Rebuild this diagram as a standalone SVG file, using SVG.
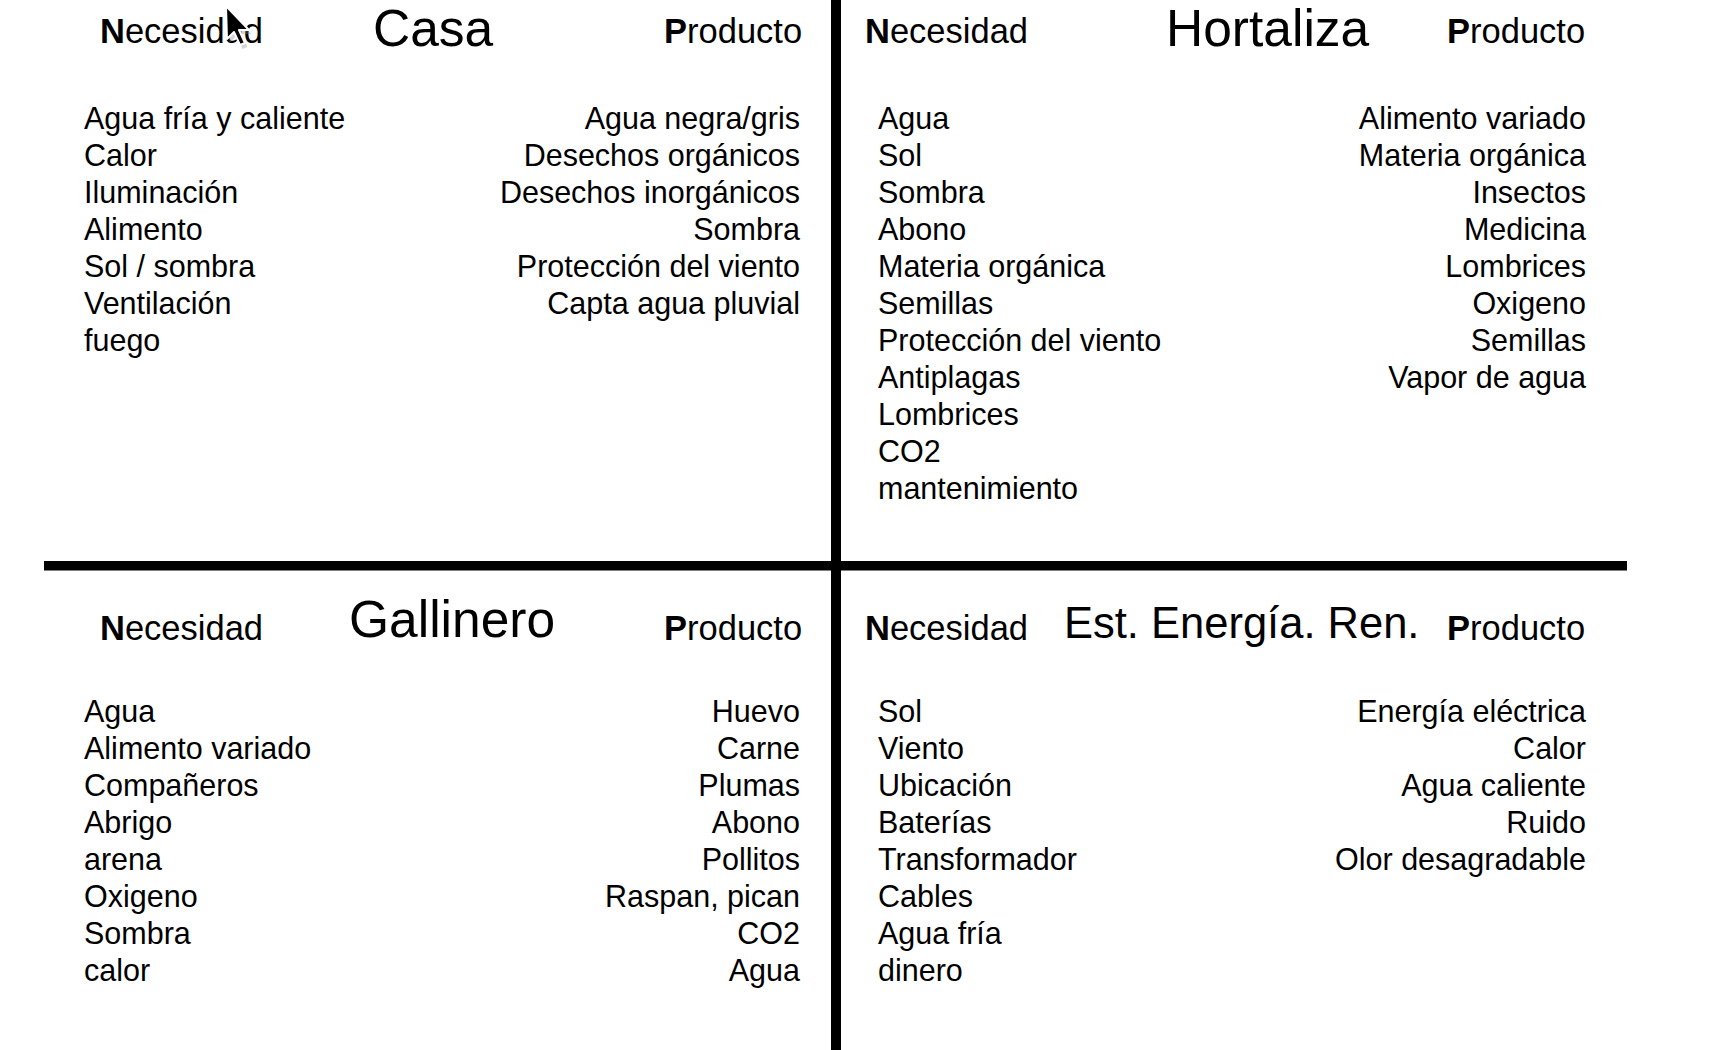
<svg xmlns="http://www.w3.org/2000/svg" width="1736" height="1050" viewBox="0 0 1736 1050">
<style>
text { font-family: "Liberation Sans", Arial, Helvetica, sans-serif; fill: #000; }
.hdr { font-size: 34.5px; }
.b { font-weight: bold; }
.title { font-size: 51.5px; }
.title2 { font-size: 43.5px; }
.body { font-size: 30.5px; }
.r { text-anchor: end; }
.div { fill: #000; }
</style>
<rect x="0" y="0" width="1736" height="1050" fill="#fff"/>
<g id="dividers">
  <rect class="div" x="831" y="0" width="10" height="1050"/>
  <rect class="div" x="44" y="561" width="1583" height="9.5"/>
</g>
<g id="casa">
  <text class="hdr" x="100" y="43"><tspan class="b">N</tspan>ecesidad</text>
  <text class="title" x="373" y="46">Casa</text>
  <text class="hdr" x="664" y="43"><tspan class="b">P</tspan>roducto</text>
  <text class="body" x="84" y="129">Agua fría y caliente</text>
  <text class="body" x="84" y="165.95">Calor</text>
  <text class="body" x="84" y="202.9">Iluminación</text>
  <text class="body" x="84" y="239.85">Alimento</text>
  <text class="body" x="84" y="276.8">Sol / sombra</text>
  <text class="body" x="84" y="313.75">Ventilación</text>
  <text class="body" x="84" y="350.7">fuego</text>
  <text class="body r" x="800" y="129">Agua negra/gris</text>
  <text class="body r" x="800" y="165.95">Desechos orgánicos</text>
  <text class="body r" x="800" y="202.9">Desechos inorgánicos</text>
  <text class="body r" x="800" y="239.85">Sombra</text>
  <text class="body r" x="800" y="276.8">Protección del viento</text>
  <text class="body r" x="800" y="313.75">Capta agua pluvial</text>
</g>
<g id="hortaliza">
  <text class="hdr" x="865" y="43"><tspan class="b">N</tspan>ecesidad</text>
  <text class="title" x="1166" y="46">Hortaliza</text>
  <text class="hdr" x="1447" y="43"><tspan class="b">P</tspan>roducto</text>
  <text class="body" x="878" y="129">Agua</text>
  <text class="body" x="878" y="165.95">Sol</text>
  <text class="body" x="878" y="202.9">Sombra</text>
  <text class="body" x="878" y="239.85">Abono</text>
  <text class="body" x="878" y="276.8">Materia orgánica</text>
  <text class="body" x="878" y="313.75">Semillas</text>
  <text class="body" x="878" y="350.7">Protección del viento</text>
  <text class="body" x="878" y="387.65">Antiplagas</text>
  <text class="body" x="878" y="424.6">Lombrices</text>
  <text class="body" x="878" y="461.55">CO2</text>
  <text class="body" x="878" y="498.5">mantenimiento</text>
  <text class="body r" x="1586" y="129">Alimento variado</text>
  <text class="body r" x="1586" y="165.95">Materia orgánica</text>
  <text class="body r" x="1586" y="202.9">Insectos</text>
  <text class="body r" x="1586" y="239.85">Medicina</text>
  <text class="body r" x="1586" y="276.8">Lombrices</text>
  <text class="body r" x="1586" y="313.75">Oxigeno</text>
  <text class="body r" x="1586" y="350.7">Semillas</text>
  <text class="body r" x="1586" y="387.65">Vapor de agua</text>
</g>
<g id="gallinero">
  <text class="hdr" x="100" y="640"><tspan class="b">N</tspan>ecesidad</text>
  <text class="title" x="349" y="637">Gallinero</text>
  <text class="hdr" x="664" y="640"><tspan class="b">P</tspan>roducto</text>
  <text class="body" x="84" y="722">Agua</text>
  <text class="body" x="84" y="758.95">Alimento variado</text>
  <text class="body" x="84" y="795.9">Compañeros</text>
  <text class="body" x="84" y="832.85">Abrigo</text>
  <text class="body" x="84" y="869.8">arena</text>
  <text class="body" x="84" y="906.75">Oxigeno</text>
  <text class="body" x="84" y="943.7">Sombra</text>
  <text class="body" x="84" y="980.65">calor</text>
  <text class="body r" x="800" y="722">Huevo</text>
  <text class="body r" x="800" y="758.95">Carne</text>
  <text class="body r" x="800" y="795.9">Plumas</text>
  <text class="body r" x="800" y="832.85">Abono</text>
  <text class="body r" x="800" y="869.8">Pollitos</text>
  <text class="body r" x="800" y="906.75">Raspan, pican</text>
  <text class="body r" x="800" y="943.7">CO2</text>
  <text class="body r" x="800" y="980.65">Agua</text>
</g>
<g id="energia">
  <text class="hdr" x="865" y="640"><tspan class="b">N</tspan>ecesidad</text>
  <text class="title2" x="1064" y="638">Est. Energía. Ren.</text>
  <text class="hdr" x="1447" y="640"><tspan class="b">P</tspan>roducto</text>
  <text class="body" x="878" y="722">Sol</text>
  <text class="body" x="878" y="758.95">Viento</text>
  <text class="body" x="878" y="795.9">Ubicación</text>
  <text class="body" x="878" y="832.85">Baterías</text>
  <text class="body" x="878" y="869.8">Transformador</text>
  <text class="body" x="878" y="906.75">Cables</text>
  <text class="body" x="878" y="943.7">Agua fría</text>
  <text class="body" x="878" y="980.65">dinero</text>
  <text class="body r" x="1586" y="722">Energía eléctrica</text>
  <text class="body r" x="1586" y="758.95">Calor</text>
  <text class="body r" x="1586" y="795.9">Agua caliente</text>
  <text class="body r" x="1586" y="832.85">Ruido</text>
  <text class="body r" x="1586" y="869.8">Olor desagradable</text>
</g>
<g id="cursor">
  <path d="M227,8 L228,41 L235,34 L241,47 L246,45 L240,32 L250,32 Z" fill="#888" opacity="0.35" transform="translate(1.5,2)"/>
  <path d="M226,6 L227,39 L234,32 L240,45 L245,43 L239,30 L249,30 Z" fill="#000" stroke="#fff" stroke-width="2" stroke-linejoin="round"/>
</g>
</svg>
